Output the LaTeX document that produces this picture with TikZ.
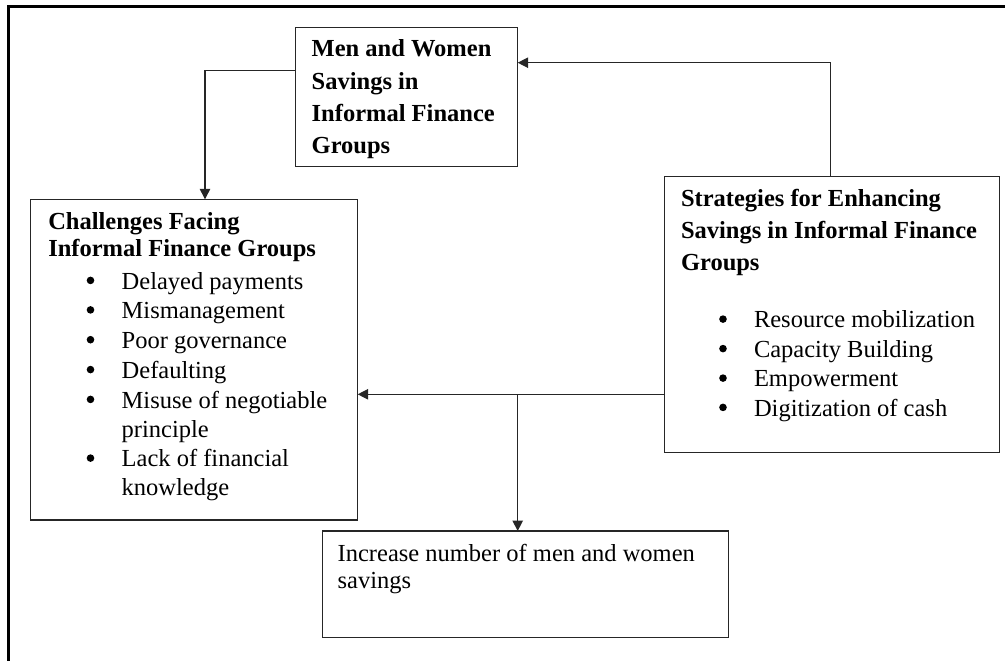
\documentclass[tikz,border=0pt]{standalone}
\usepackage{fontspec}
\setmainfont{Liberation Serif}
\usetikzlibrary{arrows.meta}

\begin{document}
\begin{tikzpicture}[x=1pt,y=-1pt,
  every node/.style={inner sep=0pt, outer sep=0pt},
  box/.style={draw=black!85, line width=1.5pt, rectangle, anchor=north west},
  frameline/.style={draw=black, line width=2.6pt},
  arr/.style={draw=black!85, line width=1.3pt, -{Triangle[length=10.5pt,width=10.5pt]}},
  hd/.style={anchor=base west, font=\fontsize{24.5}{29}\selectfont\bfseries},
  tx/.style={anchor=base west, font=\fontsize{24.5}{29}\selectfont},
  dot/.style={circle, fill=black, minimum size=7.6pt}]

\useasboundingbox (0,0) rectangle (1005,661);

% page frame: top and left rules
\draw[frameline] (8.5,661) -- (8.5,6.3) -- (1005,6.3);

% boxes
\node[box, minimum width=222pt, minimum height=139.4pt] (b1) at (295.7,27.3) {};
\node[box, minimum width=327pt, minimum height=320.7pt] (b2) at (30.7,199.3) {};
\node[box, minimum width=335pt, minimum height=276pt]   (b3) at (664.3,176.7) {};
\node[box, minimum width=406pt, minimum height=106.7pt] (b4) at (322.3,531) {};

% box 1: heading
\foreach \t [count=\i] in {Men and Women, Savings in, Informal Finance, Groups}
  \node[hd] (m\i) at (311.7,{56.7+(\i-1)*32.3}) {\t};

% box 2: heading and list
\node[hd] (c1) at (48.3,229.3) {Challenges Facing};
\node[hd] (c2) at (48.3,256.7) {Informal Finance Groups};
\foreach \t/\y [count=\i] in {Delayed payments/289, Mismanagement/318.5,
    Poor governance/348.3, Defaulting/378.2, Misuse of negotiable/408,
    principle/437, Lack of financial/466.7, knowledge/495}
  \node[tx] (ci\i) at (121.7,\y) {\t};
\foreach \y [count=\i] in {289, 318.5, 348.3, 378.2, 408, 466.7}
  \node[dot] (cb\i) at (90.5,\y-8.6) {};

% box 3: heading and list
\node[hd] (s1) at (681,206.7) {Strategies for Enhancing};
\node[hd] (s2) at (681,238.3) {Savings in  Informal Finance};
\node[hd] (s3) at (681,270) {Groups};
\foreach \t/\y [count=\i] in {Resource mobilization/327.7, Capacity Building/357.2,
    Empowerment/386.7, Digitization of cash/416}
  {\node[tx] (si\i) at (754,\y) {\t};
   \node[dot] (sb\i) at (723,\y-8.6) {};}

% box 4
\node[tx] (r1) at (337.7,561) {Increase number of men and women};
\node[tx] (r2) at (337.7,588.3) {savings};

% connectors
\draw[arr] ([yshift=-43.4pt]b1.north west) -| ([xshift=174.3pt]b2.north west);
\draw[arr] ([xshift=166.4pt]b3.north west) |- ([yshift=-35.4pt]b1.north east);
\draw[arr] ([yshift=-217.6pt]b3.north west) coordinate (jr) -- (jr -| b2.east);
\coordinate (jn) at (517.7,394.3);
\draw[arr] (jn) -- (jn |- b4.north);

\end{tikzpicture}
\end{document}
